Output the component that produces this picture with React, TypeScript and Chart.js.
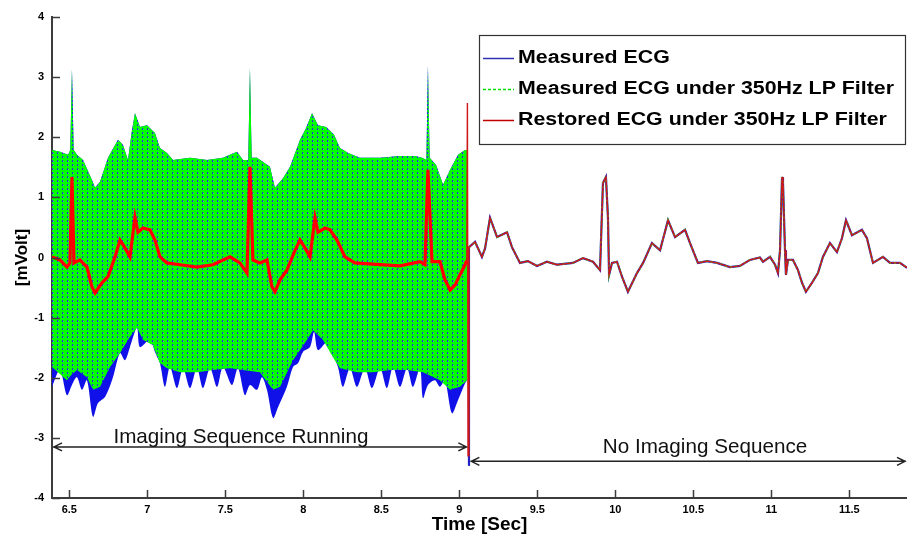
import React, { useEffect, useRef } from 'react';
import { Chart, registerables } from 'chart.js';

Chart.register(...registerables);

const FONT = '"Liberation Sans", Arial, Helvetica, sans-serif';

// ---- axes ----
const xTicks = [6.5, 7, 7.5, 8, 8.5, 9, 9.5, 10, 10.5, 11, 11.5];
const yTicks = [-4, -3, -2, -1, 0, 1, 2, 3, 4];
const xRange = [6.389, 11.87];
const yRange = [-4, 4];
const xTitle = 'Time [Sec]';
const yTitle = '[mVolt]';

// ---- series names ----
const seriesNames = [
  'Measured ECG',
  'Measured ECG under 350Hz LP Filter',
  'Restored ECG under 350Hz LP Filter',
];

// ---- phase annotations ----
const phaseLabels = ['Imaging Sequence Running', 'No Imaging Sequence'];
const imagingEnd = 9.058; // sec
const phaseArrowLevels = [-3.15, -3.39]; // mV
const phaseLabelPos = [
  [7.6, -2.99],
  [10.575, -3.15],
];

// ---- imaging period: envelopes of the oscillating signals [sec, mV] ----
// top of the band (measured & filtered overlap)
const bandUpper = [
  [6.389, 1.79], [6.44, 1.76], [6.492, 1.71], [6.506, 1.79], [6.517, 3.13], [6.528, 1.79],
  [6.549, 1.71], [6.588, 1.62], [6.645, 1.29], [6.665, 1.16], [6.697, 1.26], [6.748, 1.66],
  [6.812, 1.96], [6.844, 1.87], [6.876, 1.62], [6.902, 2.12], [6.921, 2.4], [6.953, 2.17],
  [6.998, 2.2], [7.049, 2.07], [7.081, 1.82], [7.126, 1.74], [7.165, 1.62], [7.274, 1.66],
  [7.383, 1.62], [7.485, 1.66], [7.575, 1.76], [7.613, 1.62], [7.647, 1.62], [7.658, 3.15],
  [7.669, 1.66], [7.703, 1.66], [7.786, 1.51], [7.818, 1.16], [7.87, 1.32], [7.915, 1.51],
  [7.979, 1.96], [8.017, 2.15], [8.056, 2.4], [8.094, 2.2], [8.146, 2.17], [8.197, 2.04],
  [8.235, 1.82], [8.287, 1.74], [8.363, 1.66], [8.492, 1.66], [8.62, 1.69], [8.716, 1.69],
  [8.761, 1.66], [8.789, 1.62], [8.799, 3.19], [8.81, 1.66], [8.851, 1.54], [8.896, 1.21],
  [8.941, 1.46], [8.992, 1.71], [9.037, 1.79], [9.05, 1.79],
];

// bottom of the filtered (green) band
const filteredLower = [
  [6.389, -1.82], [6.485, -2.04], [6.511, -1.96], [6.549, -1.87], [6.613, -1.99], [6.652, -2.2],
  [6.697, -2.15], [6.761, -1.82], [6.825, -1.59], [6.889, -1.32], [6.934, -1.17], [6.972, -1.37],
  [7.036, -1.46], [7.081, -1.76], [7.126, -1.84], [7.21, -1.91], [7.318, -1.91], [7.421, -1.87],
  [7.53, -1.84], [7.613, -1.87], [7.722, -1.91], [7.806, -2.2], [7.851, -2.15], [7.934, -1.71],
  [8.024, -1.37], [8.062, -1.21], [8.126, -1.37], [8.19, -1.66], [8.235, -1.84], [8.344, -1.91],
  [8.447, -1.91], [8.556, -1.87], [8.665, -1.87], [8.767, -1.91], [8.876, -2.04], [8.941, -2.2],
  [9.004, -2.15], [9.05, -2.04],
];

// bottom of the raw measured (blue) band
const measuredLower = [
  [6.389, -2.15], [6.44, -1.87], [6.485, -2.29], [6.517, -2.12], [6.549, -1.99], [6.581, -2.2],
  [6.613, -2.04], [6.652, -2.65], [6.684, -2.42], [6.729, -2.32], [6.78, -1.99], [6.825, -1.59],
  [6.857, -1.71], [6.889, -1.49], [6.934, -1.17], [6.953, -1.49], [7.017, -1.37], [7.049, -1.57],
  [7.081, -1.76], [7.113, -2.15], [7.145, -1.82], [7.19, -2.17], [7.229, -1.84], [7.274, -2.17],
  [7.318, -1.84], [7.357, -2.17], [7.402, -1.84], [7.447, -2.15], [7.485, -1.82], [7.543, -2.12],
  [7.581, -1.84], [7.626, -2.29], [7.658, -2.12], [7.703, -2.2], [7.735, -1.99], [7.767, -2.2],
  [7.806, -2.67], [7.838, -2.49], [7.895, -2.15], [7.934, -1.82], [7.966, -1.76], [7.998, -1.57],
  [8.043, -1.49], [8.069, -1.24], [8.094, -1.54], [8.152, -1.41], [8.19, -1.62], [8.222, -1.82],
  [8.254, -2.15], [8.299, -1.84], [8.344, -2.15], [8.395, -1.84], [8.44, -2.17], [8.492, -1.84],
  [8.536, -2.17], [8.575, -1.82], [8.62, -2.15], [8.665, -1.84], [8.703, -2.15], [8.748, -1.84],
  [8.767, -2.34], [8.799, -2.12], [8.844, -2.04], [8.876, -2.15], [8.908, -2.04], [8.953, -2.59],
  [8.992, -2.37], [9.037, -2.09], [9.05, -2.04],
];

// restored ECG during imaging
const restoredImaging = [
  [6.389, 0.01], [6.44, -0.04], [6.485, -0.16], [6.504, -0.09], [6.517, 1.34], [6.53, -0.09],
  [6.568, -0.04], [6.613, -0.16], [6.645, -0.49], [6.665, -0.59], [6.709, -0.42], [6.748, -0.32],
  [6.793, 0.01], [6.825, 0.29], [6.857, 0.16], [6.889, 0.01], [6.921, 0.67], [6.94, 0.42],
  [6.972, 0.49], [7.017, 0.46], [7.049, 0.29], [7.081, 0.01], [7.126, -0.09], [7.21, -0.12],
  [7.318, -0.16], [7.421, -0.12], [7.53, 0.01], [7.594, -0.09], [7.639, -0.26], [7.658, 1.51],
  [7.677, -0.04], [7.722, -0.09], [7.767, -0.04], [7.799, -0.49], [7.818, -0.57], [7.851, -0.37],
  [7.895, -0.21], [7.947, 0.12], [7.979, 0.29], [8.011, 0.16], [8.043, 0.01], [8.075, 0.66],
  [8.094, 0.42], [8.139, 0.49], [8.171, 0.46], [8.216, 0.29], [8.267, 0.01], [8.331, -0.09],
  [8.492, -0.12], [8.62, -0.14], [8.748, -0.07], [8.78, -0.12], [8.799, 1.46], [8.825, -0.07],
  [8.876, -0.07], [8.908, -0.37], [8.941, -0.54], [8.973, -0.46], [9.004, -0.29], [9.037, -0.12],
  [9.048, -0.05],
];

// switch-off transient of the restored trace
const restoredSwitch = [[9.048, -0.05], [9.052, 2.57], [9.056, -3.3]];
const measuredSwitch = [[9.057, -3.45]];

// ---- after imaging: the three traces coincide [sec, mV] ----
const ecgQuiet = [
  [9.062, 0.17], [9.101, 0.26], [9.145, 0.01], [9.165, 0.15], [9.197, 0.66], [9.242, 0.34],
  [9.306, 0.42], [9.338, 0.17], [9.389, -0.09], [9.44, -0.06], [9.498, -0.14], [9.562, -0.07],
  [9.626, -0.12], [9.729, -0.09], [9.793, -0.01], [9.857, -0.07], [9.902, -0.21], [9.921, 1.24],
  [9.94, 1.34], [9.953, 0.67], [9.96, -0.29], [9.979, -0.09], [10.011, -0.07], [10.043, -0.32],
  [10.081, -0.57], [10.139, -0.26], [10.178, -0.09], [10.235, 0.24], [10.287, 0.12], [10.338, 0.62],
  [10.383, 0.34], [10.447, 0.46], [10.479, 0.24], [10.53, -0.09], [10.588, -0.06], [10.652, -0.09],
  [10.735, -0.16], [10.799, -0.14], [10.863, -0.04], [10.927, 0.0], [10.947, -0.07], [10.992, 0.01],
  [11.024, -0.12], [11.043, -0.26], [11.056, 0.12], [11.069, 1.34], [11.075, 1.24], [11.088, 0.12],
  [11.094, -0.29], [11.107, -0.04], [11.139, -0.04], [11.171, -0.21], [11.197, -0.42], [11.222, -0.57],
  [11.261, -0.42], [11.299, -0.26], [11.331, 0.01], [11.376, 0.24], [11.421, 0.09], [11.453, 0.32],
  [11.479, 0.62], [11.517, 0.37], [11.581, 0.46], [11.613, 0.32], [11.652, -0.09], [11.716, 0.01],
  [11.761, -0.09], [11.825, -0.09], [11.87, -0.17],
];

const BLUE = '#1010e8';
const GREEN = '#00ff00';
const RED = '#ff0000';
const AXIS = '#3c3c3c';

const pts = (a: number[][]) => a.map(([x, y]) => ({ x, y }));

function makePattern(): CanvasPattern | string {
  const c = document.createElement('canvas');
  c.width = 5;
  c.height = 4;
  const g = c.getContext('2d');
  if (!g) return GREEN;
  g.fillStyle = GREEN;
  g.fillRect(0, 0, 5, 4);
  g.fillStyle = '#1c34d4';
  g.fillRect(2, 0, 1, 2);
  g.fillStyle = '#58a0a0';
  g.fillRect(3, 1, 1, 1);
  const p = g.createPattern(c, 'repeat');
  return p || GREEN;
}

function fitText(ctx: CanvasRenderingContext2D, text: string, x: number, y: number, sx: number, align: CanvasTextAlign) {
  ctx.save();
  ctx.translate(x, y);
  ctx.scale(sx, 1);
  ctx.textAlign = align;
  ctx.textBaseline = 'middle';
  ctx.fillText(text, 0, 0);
  ctx.restore();
}

const decorPlugin = {
  id: 'ecgDecor',
  afterDraw(chart: any) {
    const ctx: CanvasRenderingContext2D = chart.ctx;
    const xs = chart.scales.x;
    const ys = chart.scales.y;
    const area = chart.chartArea;
    ctx.save();
    // inward tick marks
    ctx.strokeStyle = AXIS;
    ctx.lineWidth = 1.5;
    ctx.beginPath();
    xTicks.forEach((v) => {
      const px = Math.round(xs.getPixelForValue(v)) + 0.5;
      ctx.moveTo(px, area.bottom);
      ctx.lineTo(px, area.bottom - 8);
    });
    yTicks.forEach((v) => {
      const py = Math.round(ys.getPixelForValue(v)) + 0.5;
      ctx.moveTo(area.left, py);
      ctx.lineTo(area.left + 8, py);
    });
    ctx.stroke();

    // phase arrows
    const arrow = (x1: number, x2: number, y: number) => {
      ctx.strokeStyle = '#222';
      ctx.lineWidth = 1.5;
      ctx.beginPath();
      ctx.moveTo(x1, y);
      ctx.lineTo(x2, y);
      ctx.moveTo(x1 + 9, y - 4);
      ctx.lineTo(x1 + 1, y);
      ctx.lineTo(x1 + 9, y + 4);
      ctx.moveTo(x2 - 9, y - 4);
      ctx.lineTo(x2 - 1, y);
      ctx.lineTo(x2 - 9, y + 4);
      ctx.stroke();
    };
    arrow(xs.getPixelForValue(xRange[0]) + 1, xs.getPixelForValue(imagingEnd) - 1, ys.getPixelForValue(phaseArrowLevels[0]));
    arrow(xs.getPixelForValue(imagingEnd) + 2, xs.getPixelForValue(xRange[1]) - 1, ys.getPixelForValue(phaseArrowLevels[1]));

    ctx.fillStyle = '#111';
    ctx.font = `21px ${FONT}`;
    const w0 = ctx.measureText(phaseLabels[0]).width;
    const sPhase = 255 / w0;
    phaseLabels.forEach((t, i) => {
      fitText(ctx, t, xs.getPixelForValue(phaseLabelPos[i][0]), ys.getPixelForValue(phaseLabelPos[i][1]), sPhase, 'center');
    });

    // legend
    const bx = 479.5, by = 35.5, bw = 426, bh = 109;
    ctx.fillStyle = '#fff';
    ctx.fillRect(bx, by, bw, bh);
    ctx.strokeStyle = '#333';
    ctx.lineWidth = 1.2;
    ctx.strokeRect(bx, by, bw, bh);
    ctx.font = `bold 18px ${FONT}`;
    const wl = ctx.measureText(seriesNames[1]).width;
    const sLeg = 376 / wl;
    const rows = [58, 89, 120];
    const colors = ['#3030b0', '#00e000', '#c00000'];
    rows.forEach((ry, i) => {
      ctx.strokeStyle = colors[i];
      ctx.lineWidth = 1.5;
      ctx.setLineDash(i === 1 ? [3, 2] : []);
      ctx.beginPath();
      ctx.moveTo(483, ry + 0.5);
      ctx.lineTo(514, ry + 0.5);
      ctx.stroke();
      ctx.setLineDash([]);
      ctx.fillStyle = '#000';
      fitText(ctx, seriesNames[i], 518, ry, sLeg, 'left');
    });
    ctx.restore();
  },
};

const fmt = (v: any) => `${Number(v)}`;

export default function App() {
  const ref = useRef<HTMLCanvasElement>(null);
  useEffect(() => {
    if (!ref.current) return;
    const pattern = makePattern();
    const chart = new Chart(ref.current, {
      type: 'line',
      data: {
        datasets: [
          {
            label: 'band top',
            data: pts(bandUpper),
            borderWidth: 0,
            borderColor: 'transparent',
            pointRadius: 0,
            fill: false,
            order: 10,
          },
          {
            label: seriesNames[0] + ' (imaging)',
            data: pts(measuredLower),
            borderWidth: 0,
            borderColor: 'transparent',
            backgroundColor: BLUE,
            pointRadius: 0,
            tension: 0.3,
            fill: 0,
            order: 9,
          },
          {
            label: seriesNames[1] + ' (imaging)',
            data: pts(filteredLower),
            borderWidth: 0,
            borderColor: 'transparent',
            backgroundColor: pattern as any,
            pointRadius: 0,
            fill: 0,
            order: 8,
          },
          {
            label: seriesNames[0],
            data: pts([...measuredSwitch, ...ecgQuiet]),
            borderColor: '#2020c8',
            borderWidth: 2.2,
            pointRadius: 0,
            fill: false,
            order: 3,
          },
          {
            label: seriesNames[1],
            data: pts(ecgQuiet),
            borderColor: '#30e030',
            borderWidth: 2,
            borderDash: [2, 3],
            pointRadius: 0,
            fill: false,
            order: 2,
          },
          {
            label: seriesNames[2],
            data: pts([...restoredSwitch, ...ecgQuiet]),
            borderColor: '#d01818',
            borderWidth: 1.4,
            pointRadius: 0,
            fill: false,
            order: 1,
          },
          {
            label: seriesNames[2] + ' (imaging)',
            data: pts(restoredImaging),
            borderColor: RED,
            borderWidth: 3.2,
            pointRadius: 0,
            fill: false,
            order: 0,
          },
        ],
      },
      options: {
        responsive: false,
        animation: false,
        devicePixelRatio: 1,
        layout: { padding: { top: 17, right: 0, left: 0, bottom: 0 } },
        plugins: {
          legend: { display: false },
          tooltip: { enabled: false },
        },
        scales: {
          x: {
            type: 'linear',
            min: xRange[0],
            max: xRange[1],
            afterFit: (s: any) => {
              s.height = 41;
            },
            afterBuildTicks: (s: any) => {
              s.ticks = xTicks.map((v) => ({ value: v }));
            },
            grid: { display: true, drawOnChartArea: false, drawTicks: false },
            border: { display: true, color: AXIS, width: 2 },
            ticks: {
              padding: 5,
              color: '#000',
              maxRotation: 0,
              autoSkip: false,
              callback: fmt,
              font: { family: FONT, size: 11, weight: 'bold' },
            },
            title: {
              display: true,
              text: xTitle,
              color: '#000',
              font: { family: FONT, size: 19, weight: 'bold' },
              padding: { top: 0, bottom: 3 },
            },
          },
          y: {
            type: 'linear',
            min: yRange[0],
            max: yRange[1],
            afterFit: (s: any) => {
              s.width = 52;
            },
            afterBuildTicks: (s: any) => {
              s.ticks = yTicks.map((v) => ({ value: v }));
            },
            grid: { display: true, drawOnChartArea: false, drawTicks: false },
            border: { display: true, color: AXIS, width: 2 },
            ticks: {
              padding: 8,
              color: '#000',
              autoSkip: false,
              callback: fmt,
              font: { family: FONT, size: 11, weight: 'bold' },
            },
            title: {
              display: true,
              text: yTitle,
              color: '#000',
              font: { family: FONT, size: 17, weight: 'bold' },
              padding: { top: 12, bottom: 0 },
            },
          },
        },
      },
      plugins: [decorPlugin],
    });
    return () => chart.destroy();
  }, []);

  return (
    <div style={{ position: 'fixed', left: 0, top: 0, width: 907, height: 539, background: '#fff' }}>
      <canvas ref={ref} width={907} height={539} style={{ display: 'block' }} />
    </div>
  );
}
